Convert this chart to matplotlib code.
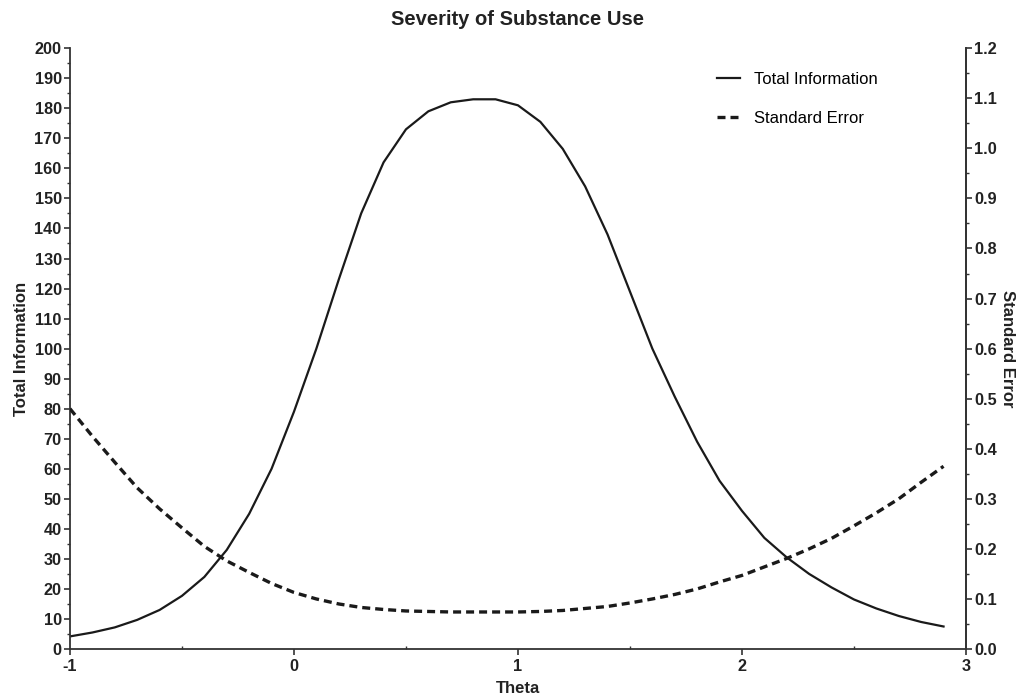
import numpy as np
import matplotlib
matplotlib.use("Agg")
import matplotlib.pyplot as plt
from matplotlib.ticker import MultipleLocator

plt.rcParams['font.family'] = ['Liberation Sans', 'DejaVu Sans']
plt.rcParams['axes.unicode_minus'] = False

theta = [-1.0, -0.9, -0.8, -0.7, -0.6, -0.5, -0.4, -0.3, -0.2, -0.1,
         0.0, 0.1, 0.2, 0.3, 0.4, 0.5, 0.6, 0.7, 0.8, 0.9,
         1.0, 1.1, 1.2, 1.3, 1.4, 1.5, 1.6, 1.7, 1.8, 1.9,
         2.0, 2.1, 2.2, 2.3, 2.4, 2.5, 2.6, 2.7, 2.8, 2.9]

# total information (left axis)
total_info = [4.2, 5.5, 7.2, 9.7, 13.0, 17.7, 24.0, 33.0, 45.0, 60.0,
              79.0, 100.0, 123.0, 145.0, 162.0, 173.0, 179.0, 182.0, 183.0, 183.0,
              181.0, 175.5, 166.5, 154.0, 138.0, 119.0, 100.0, 84.0, 69.0, 56.0,
              46.0, 37.0, 30.5, 25.0, 20.5, 16.5, 13.5, 11.0, 9.0, 7.5]

# standard error (right axis)
std_err = [0.48, 0.425, 0.373, 0.322, 0.28, 0.242, 0.205, 0.176, 0.153, 0.131,
           0.113, 0.10, 0.09, 0.083, 0.079, 0.076, 0.075, 0.074, 0.074, 0.074,
           0.074, 0.075, 0.077, 0.081, 0.085, 0.092, 0.10, 0.109, 0.12, 0.134,
           0.147, 0.164, 0.181, 0.20, 0.221, 0.246, 0.272, 0.30, 0.333, 0.365]

fig = plt.figure(figsize=(10.2, 6.99), dpi=100)
ax = fig.add_axes([0.0686, 0.0715, 0.8784, 0.8595])
ax2 = ax.twinx()

l1, = ax.plot(theta, total_info, color='#1a1a1a', lw=1.6, label='Total Information')
l2, = ax2.plot(theta, std_err, color='#1a1a1a', lw=2.4, linestyle=(0, (2.4, 1.5)),
               label='Standard Error')

ax.set_xlim(-1, 3)
ax.set_ylim(0, 200)
ax2.set_ylim(0, 1.2)

ax.xaxis.set_major_locator(MultipleLocator(1))
ax.xaxis.set_minor_locator(MultipleLocator(0.5))
ax.yaxis.set_major_locator(MultipleLocator(10))
ax.yaxis.set_minor_locator(MultipleLocator(5))
ax2.yaxis.set_major_locator(MultipleLocator(0.1))
ax2.yaxis.set_minor_locator(MultipleLocator(0.05))
ax2.yaxis.set_major_formatter(plt.FormatStrFormatter('%.1f'))

for a in (ax, ax2):
    a.spines['top'].set_visible(False)
    for s in a.spines.values():
        s.set_linewidth(1.3)
        s.set_color('#333333')
    a.tick_params(which='major', length=4, width=1.2, color='#333333', labelsize=11.7, pad=2)
    a.tick_params(which='minor', length=2.5, width=1.0, color='#333333')
ax.tick_params(axis='x', which='minor', direction='in')
ax.tick_params(axis='x', which='major', pad=3)
ax2.spines['left'].set_visible(False)
ax2.spines['bottom'].set_visible(False)

for lab in ax.get_xticklabels() + ax.get_yticklabels() + ax2.get_yticklabels():
    lab.set_fontweight('bold')
    lab.set_color('#222222')

ax.set_xlabel('Theta', fontsize=12, fontweight='bold', labelpad=5, color='#222222')
ax.set_ylabel('Total Information', fontsize=12, fontweight='bold', labelpad=4, color='#222222')
ax2.set_ylabel('Standard Error', fontsize=12, fontweight='bold', rotation=270,
               labelpad=13, color='#222222')
ax.set_title('Severity of Substance Use', fontsize=14.5, fontweight='bold', pad=17,
             color='#222222')

ax.legend([l1, l2], ['Total Information', 'Standard Error'], loc='upper left',
          bbox_to_anchor=(0.703, 0.897), bbox_transform=fig.transFigure,
          frameon=False, fontsize=12, borderpad=0, borderaxespad=0,
          handlelength=1.4, labelspacing=1.45, handletextpad=0.8)

fig.savefig('out.png', dpi=100)
